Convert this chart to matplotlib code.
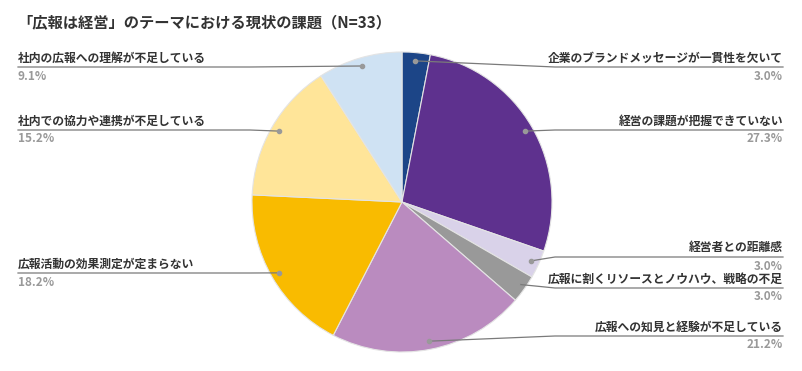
import numpy as np
import matplotlib.pyplot as plt

plt.rcParams['font.family'] = ['Noto Sans CJK JP', 'DejaVu Sans']

# データ（N=33）
labels = ['企業のブランドメッセージが一貫性を欠いて', '経営の課題が把握できていない', '経営者との距離感',
          '広報に割くリソースとノウハウ、戦略の不足', '広報への知見と経験が不足している',
          '広報活動の効果測定が定まらない', '社内での協力や連携が不足している', '社内の広報への理解が不足している']
counts = [1, 9, 1, 1, 7, 6, 5, 3]
pct_labels = ['3.0%', '27.3%', '3.0%', '3.0%', '21.2%', '18.2%', '15.2%', '9.1%']
colors = ['#1c4587', '#5e318e', '#d9d2e9', '#999999', '#ba8bbf', '#f9bb00', '#ffe599', '#cfe2f3']

W, H = 802, 371
# ラベル線のy位置（ピクセル、上から）
line_y = [67, 130, 257, 288, 336, 273, 130, 67]

fig = plt.figure(figsize=(W / 100, H / 100), dpi=100)
ax = fig.add_axes([0, 0, 1, 1])

cx, cy, R = 402, H - 202, 150
wedges, _ = ax.pie(counts, colors=colors, startangle=90, counterclock=False,
                   center=(cx, cy), radius=R, frame=True,
                   wedgeprops=dict(edgecolor='#e4e4e4', linewidth=0.8))
ax.set_xlim(0, W)
ax.set_ylim(0, H)
ax.set_aspect('equal')
ax.axis('off')

fs = 8.5
for w, lab, pct, ly in zip(wedges, labels, pct_labels, line_y):
    ang = np.deg2rad((w.theta1 + w.theta2) / 2)
    dx = cx + 0.945 * R * np.cos(ang)
    dy = cy + 0.945 * R * np.sin(ang)
    y = H - ly
    ax.plot(dx, dy, 'o', ms=3, color='#999999', zorder=5)
    if np.cos(ang) > 0:
        knee, end = 555, 783
        ax.plot([dx, knee, end], [dy, y, y], color='#7a7a7a', lw=0.9, zorder=4)
        ax.text(end, y + 2.5, lab, ha='right', va='bottom', fontsize=fs, fontweight='bold', color='#333333')
        ax.text(end, y - 2.5, pct, ha='right', va='top', fontsize=fs, fontweight='bold', color='#999999')
    else:
        knee, end = 250, 18
        ax.plot([dx, knee, end], [dy, y, y], color='#7a7a7a', lw=0.9, zorder=4)
        ax.text(end, y + 2.5, lab, ha='left', va='bottom', fontsize=fs, fontweight='bold', color='#333333')
        ax.text(end, y - 2.5, pct, ha='left', va='top', fontsize=fs, fontweight='bold', color='#999999')

ax.text(17, H - 22, '「広報は経営」のテーマにおける現状の課題（N=33）', ha='left', va='center',
        fontsize=11, fontweight='bold', color='#333333')

fig.savefig('out.png', dpi=100)
